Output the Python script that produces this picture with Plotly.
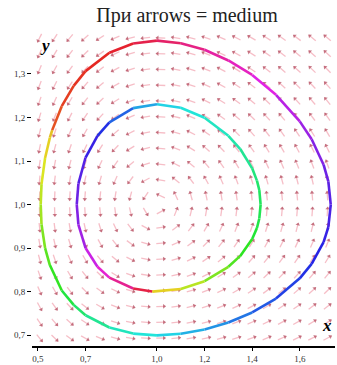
import colorsys
import numpy as np
import plotly.graph_objects as go

TITLE = "При arrows = medium"
X_TICKS = [0.5, 0.7, 1.0, 1.2, 1.4, 1.6]
X_TICK_TEXT = ["0,5", "0,7", "1,0", "1,2", "1,4", "1,6"]
Y_TICKS = [0.7, 0.8, 0.9, 1.0, 1.1, 1.2, 1.3]
Y_TICK_TEXT = ["0,7", "0,8", "0,9", "1,0", "1,1", "1,2", "1,3"]
X_RANGE = [0.475, 1.748]
Y_RANGE = [0.675, 1.401]

# direction field system: x' = A*x*(1-y), y' = C*y*(x-1)
A_COEF = 1.0
C_COEF = 0.3125
N_ARROWS = 20

# outer trajectory, with hue along it
OUTER_X = [0.56, 0.55, 0.53, 0.515, 0.5116, 0.515, 0.53, 0.55, 0.60, 0.65, 0.70, 0.80, 0.90, 1.0,
           1.1, 1.2, 1.3, 1.4, 1.5, 1.6, 1.65, 1.7, 1.72, 1.7302, 1.72, 1.7, 1.65, 1.6, 1.5, 1.4,
           1.3, 1.2, 1.1, 1.0, 0.9, 0.8, 0.7, 0.65, 0.6, 0.56]
OUTER_Y = [1.171, 1.1535, 1.107, 1.047, 1.0, 0.954, 0.90, 0.861, 0.8025, 0.7695, 0.7457, 0.7175,
           0.7035, 0.6995, 0.703, 0.713, 0.729, 0.752, 0.784, 0.8305, 0.8635, 0.9137, 0.948, 1.0,
           1.053, 1.0915, 1.15, 1.191, 1.252, 1.2978, 1.331, 1.3555, 1.3705, 1.3765, 1.37, 1.3488,
           1.3065, 1.2725, 1.226, 1.171]
OUTER_HUE = [0.13, 0.14, 0.16, 0.19, 0.21, 0.24, 0.27, 0.30, 0.34, 0.38, 0.41, 0.45, 0.48, 0.50,
             0.53, 0.56, 0.58, 0.61, 0.63, 0.65, 0.66, 0.68, 0.69, 0.71, 0.72, 0.74, 0.76, 0.78,
             0.81, 0.85, 0.88, 0.90, 0.93, 0.95, 0.98, 1.0, 1.01, 1.02, 1.03, 1.05]

# inner trajectory
INNER_X = [0.98, 1.1, 1.2, 1.3, 1.35, 1.4, 1.42, 1.43, 1.4355, 1.43, 1.42, 1.4, 1.35, 1.3, 1.2,
           1.1, 1.0, 0.9, 0.8, 0.75, 0.7, 0.67, 0.663, 0.67, 0.7, 0.75, 0.8, 0.9, 0.98]
INNER_Y = [0.800, 0.806, 0.824, 0.857, 0.882, 0.921, 0.946, 0.968, 1.0, 1.033, 1.055, 1.0832,
           1.1275, 1.158, 1.1995, 1.2225, 1.2305, 1.2215, 1.189, 1.158, 1.108, 1.048, 1.0, 0.954,
           0.90, 0.857, 0.832, 0.807, 0.800]
INNER_HUE = [0.12, 0.18, 0.23, 0.28, 0.31, 0.34, 0.36, 0.37, 0.38, 0.39, 0.40, 0.42, 0.44, 0.46,
             0.48, 0.50, 0.53, 0.58, 0.64, 0.67, 0.70, 0.72, 0.74, 0.76, 0.79, 0.83, 0.87, 0.94, 1.0]

W, H = 337, 365
ML, MR, MT, MB = 32, 2, 30, 19
SX = (W - ML - MR) / (X_RANGE[1] - X_RANGE[0])
SY = (H - MT - MB) / (Y_RANGE[1] - Y_RANGE[0])

fig = go.Figure()

# direction field
gx = X_RANGE[0] + (np.arange(N_ARROWS) + 0.5) * (X_RANGE[1] - X_RANGE[0]) / N_ARROWS
gy = Y_RANGE[0] + (np.arange(N_ARROWS) + 0.5) * (Y_RANGE[1] - Y_RANGE[0]) / N_ARROWS
half = 4.5
sx_, sy_, hx, hy, ang = [], [], [], [], []
for x in gx:
    for y in gy:
        u = A_COEF * x * (1 - y) * SX
        v = C_COEF * y * (x - 1) * SY
        n = np.hypot(u, v)
        if n == 0:
            continue
        du, dv = u / n, v / n
        x0, y0 = x - half * du / SX, y - half * dv / SY
        x1, y1 = x + half * du / SX, y + half * dv / SY
        sx_ += [x0, x1, None]
        sy_ += [y0, y1, None]
        hx.append(x1 - 1.2 * du / SX)
        hy.append(y1 - 1.2 * dv / SY)
        ang.append(np.degrees(np.arctan2(du, dv)))

fig.add_trace(go.Scatter(x=sx_, y=sy_, mode="lines",
                         line=dict(color="rgba(235,110,130,0.45)", width=1.3),
                         hoverinfo="skip", showlegend=False))
fig.add_trace(go.Scatter(x=hx, y=hy, mode="markers",
                         marker=dict(symbol="triangle-up", size=4, angle=ang,
                                     color="rgba(170,60,80,0.65)", line=dict(width=0)),
                         hoverinfo="skip", showlegend=False))


def hue_color(h):
    r, g, b = colorsys.hsv_to_rgb(h % 1.0, 0.85, 0.9)
    return f"rgb({int(r*255)},{int(g*255)},{int(b*255)})"


for xs, ys, hs in [(OUTER_X, OUTER_Y, OUTER_HUE), (INNER_X, INNER_Y, INNER_HUE)]:
    for i in range(len(xs) - 1):
        fig.add_trace(go.Scatter(x=[xs[i], xs[i + 1]], y=[ys[i], ys[i + 1]], mode="lines",
                                 line=dict(color=hue_color((hs[i] + hs[i + 1]) / 2), width=2.6),
                                 hoverinfo="skip", showlegend=False))

fig.update_layout(
    width=W, height=H,
    margin=dict(l=ML, r=MR, t=MT, b=MB),
    paper_bgcolor="white", plot_bgcolor="white",
    title=dict(text=TITLE, x=0.555, xanchor="center", y=0.96, yanchor="middle",
               font=dict(family="Liberation Serif", size=20, color="#222")),
    xaxis=dict(range=X_RANGE, tickvals=X_TICKS, ticktext=X_TICK_TEXT, showgrid=False,
               zeroline=False, showline=True, linecolor="black", linewidth=1.5,
               ticks="outside", ticklen=3, tickcolor="black", automargin=False,
               tickfont=dict(family="Liberation Serif", size=9, color="#333")),
    yaxis=dict(range=Y_RANGE, tickvals=Y_TICKS, ticktext=Y_TICK_TEXT, showgrid=False,
               zeroline=False, showline=False, ticks="outside", ticklen=4, tickcolor="black",
               automargin=False,
               tickfont=dict(family="Liberation Serif", size=9, color="#333")),
    annotations=[
        dict(text="<b><i>y</i></b>", xref="paper", yref="paper", x=(45 - ML) / (W - ML - MR),
             y=1 - (45 - MT) / (H - MT - MB), xanchor="center", yanchor="middle",
             showarrow=False, font=dict(family="Liberation Serif", size=17, color="black")),
        dict(text="<b><i>x</i></b>", xref="paper", yref="paper", x=(327 - ML) / (W - ML - MR),
             y=1 - (325 - MT) / (H - MT - MB), xanchor="center", yanchor="middle",
             showarrow=False, font=dict(family="Liberation Serif", size=17, color="black")),
    ],
)

fig.write_html("out.html", config={"displayModeBar": False},
               post_script="document.body.style.margin='0';document.body.style.padding='0';")
